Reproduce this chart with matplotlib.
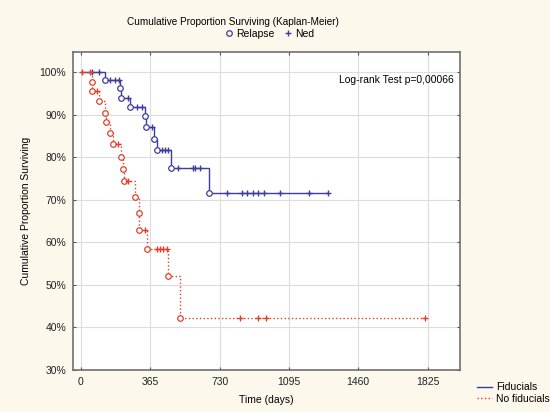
import numpy as np
import matplotlib
matplotlib.use("Agg")
import matplotlib.pyplot as plt
from matplotlib.lines import Line2D
from matplotlib.ticker import FuncFormatter

plt.rcParams['font.family'] = ['Liberation Sans', 'DejaVu Sans']

# Fiducials: relapse times (days) with survival after each, and censored (Ned) times
fid_event_days = [126, 205, 213, 258, 337, 341, 385, 399, 474, 676]
fid_event_surv = [0.982, 0.963, 0.939, 0.918, 0.896, 0.871, 0.843, 0.818, 0.775, 0.717]
fid_censor_days = [60, 95, 153, 179, 200, 249, 293, 320, 372, 425, 442, 460,
                   513, 592, 600, 627, 768, 848, 873, 905, 932, 966, 1047, 1200, 1302]

# No fiducials
nof_event_days = [56, 60, 96, 128, 131, 153, 170, 211, 223, 228, 284, 305, 307, 346, 460, 521]
nof_event_surv = [0.976, 0.955, 0.931, 0.905, 0.882, 0.857, 0.832, 0.801, 0.773, 0.744,
                  0.707, 0.668, 0.629, 0.584, 0.520, 0.422]
nof_censor_days = [4, 47, 86, 196, 249, 337, 399, 416, 434, 451, 837, 932, 972, 1810]

xticks = [0, 365, 730, 1095, 1460, 1825]
yticks = [0.3, 0.4, 0.5, 0.6, 0.7, 0.8, 0.9, 1.0]

blue = '#3d3d9e'
red = '#e0402a'
bg = '#fcf8ec'


def surv_at(t, ev_days, ev_surv):
    idx = np.searchsorted(ev_days, t, side='right')
    return 1.0 if idx == 0 else ev_surv[idx - 1]


def km_plot(ax, ev_days, ev_surv, cens_days, color, ls):
    end = max(max(ev_days), max(cens_days))
    xs = [0] + list(ev_days) + [end]
    ys = [1.0] + list(ev_surv) + [ev_surv[-1]]
    ax.plot(xs, ys, drawstyle='steps-post', color=color, linestyle=ls, lw=1.0, zorder=3)
    ax.plot(ev_days, ev_surv, 'o', mfc='white', mec=color, ms=4, mew=0.9, zorder=4)
    cs = [surv_at(c, ev_days, ev_surv) for c in cens_days]
    ax.plot(cens_days, cs, '+', color=color, ms=5, mew=1.0, zorder=4)


fig = plt.figure(figsize=(5.5, 4.12), dpi=100, facecolor=bg)
ax = fig.add_axes([0.1327, 0.1019, 0.7037, 0.7726])
ax.set_facecolor('white')

km_plot(ax, fid_event_days, fid_event_surv, fid_censor_days, blue, '-')
km_plot(ax, nof_event_days, nof_event_surv, nof_censor_days, red, ':')

ax.set_xlim(-42, 1996)
ax.set_ylim(0.3, 1.048)
ax.set_xticks(xticks)
ax.set_yticks(yticks)
ax.yaxis.set_major_formatter(FuncFormatter(lambda v, p: f'{v * 100:.0f}%'))
ax.tick_params(labelsize=7.5, length=2.5, width=0.8, color='#555555',
               top=True, right=True, direction='in', pad=5, labelcolor='#222222')
ax.grid(True, color='#dcdcdc', lw=0.8)
ax.set_axisbelow(True)
for s in ax.spines.values():
    s.set_color('#707070')
    s.set_linewidth(1.2)

ax.set_xlabel('Time (days)', fontsize=7.5, labelpad=6)
ax.set_ylabel('Cumulative Proportion Surviving', fontsize=7.5, labelpad=6)

ax.text(0.985, 0.912, 'Log-rank Test p=0,00066', transform=ax.transAxes,
        ha='right', va='center', fontsize=7.5)

fig.text(0.424, 0.946, 'Cumulative Proportion Surviving (Kaplan-Meier)',
         ha='center', va='center', fontsize=7.2)

head = [Line2D([], [], marker='o', ls='none', mfc='none', mec=blue, ms=4, mew=0.9),
        Line2D([], [], marker='+', ls='none', color=blue, ms=5, mew=1.0)]
fig.legend(head, ['Relapse', 'Ned'], loc='center', bbox_to_anchor=(0.49, 0.918),
           ncol=2, frameon=False, fontsize=7.5, handlelength=0.8, handletextpad=0.3,
           columnspacing=0.9)

leg = [Line2D([], [], color=blue, lw=1.0), Line2D([], [], color=red, lw=1.0, ls=':')]
fig.legend(leg, ['Fiducials', 'No fiducials'], loc='upper left',
           bbox_to_anchor=(0.858, 0.085), frameon=False, fontsize=7.5,
           handlelength=1.4, handletextpad=0.4, labelspacing=0.15, borderpad=0.0)

fig.savefig('out.png', dpi=100, facecolor=bg)
